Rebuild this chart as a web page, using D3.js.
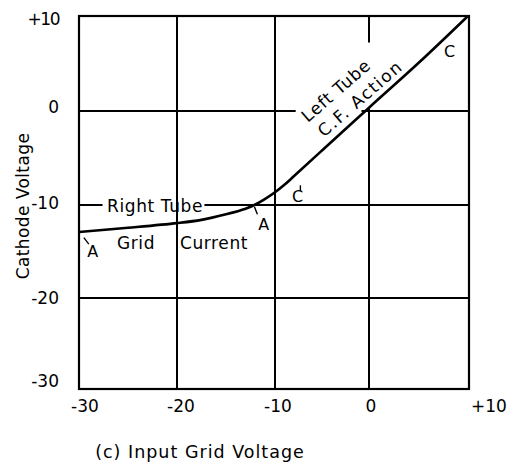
<!DOCTYPE html>
<html>
<head>
<meta charset="utf-8">
<script src="https://cdn.jsdelivr.net/npm/d3@7/dist/d3.min.js"></script>
<style>
  html, body { margin: 0; padding: 0; background: #fff; }
  svg { display: block; }
  text { font-family: "DejaVu Sans", sans-serif; fill: #000; }
</style>
</head>
<body>
<script>
// ---- data ----
const xTicks = [-30, -20, -10, 0, 10];
const xTickLabels = ["-30", "-20", "-10", "0", "+10"];
const yTicks = [10, 0, -10, -20, -30];
const yTickLabels = ["+10", "0", "-10", "-20", "-30"];

// transfer curve: input grid voltage -> cathode voltage
const curveX = [-30, -25, -20, -17.5, -15, -13, -12, -11, -10, -9, -8, -5, 0, 5, 9.9];
const curveY = [-12.9, -12.45, -11.95, -11.6, -11.0, -10.4, -9.95, -9.35, -8.65, -7.85, -6.95, -4.2, 0.35, 5.1, 10];

// grid segments in data units [x1, y1, x2, y2] (gaps leave room for labels)
const gridSegments = [
  [-20, 10, -20, -30],
  [-10, 10, -10, -30],
  [0, 10, 0, 7.2],
  [0, 0.3, 0, -30],
  [-30, 0, -7.8, 0],
  [-0.8, 0, 10, 0],
  [-30, -10, -27.6, -10],
  [-17.2, -10, 10, -10],
  [-30, -20, 10, -20]
];

// ---- layout ----
const W = 514, H = 465;
const svg = d3.select("body").append("svg").attr("width", W).attr("height", H);

const x = d3.scaleLinear().domain(xTicks).range([79, 177, 275, 369, 469]);
const y = d3.scaleLinear().domain(yTicks).range([16, 111, 205, 298, 389]);

// grid
svg.append("g").selectAll("line").data(gridSegments).join("line")
  .attr("x1", d => x(d[0])).attr("y1", d => y(d[1]))
  .attr("x2", d => x(d[2])).attr("y2", d => y(d[3]))
  .attr("stroke", "#000").attr("stroke-width", 2);

// frame
svg.append("rect")
  .attr("x", x(-30)).attr("y", y(10))
  .attr("width", x(10) - x(-30)).attr("height", y(-30) - y(10))
  .attr("fill", "none").attr("stroke", "#000").attr("stroke-width", 2.2);

// curve
const pts = curveX.map((v, i) => [v, curveY[i]]);
svg.append("path")
  .attr("d", d3.line().x(d => x(d[0])).y(d => y(d[1])).curve(d3.curveCatmullRom.alpha(0.5))(pts))
  .attr("fill", "none").attr("stroke", "#000").attr("stroke-width", 2.6);

// x tick labels
const xOff = [6, 4, 3, 2, 20];
svg.append("g").selectAll("text").data(xTicks).join("text")
  .attr("x", (d, i) => x(d) + xOff[i]).attr("y", y(-30) + 23)
  .attr("text-anchor", "middle").attr("font-size", 17)
  .text((d, i) => xTickLabels[i]);

// y tick labels
const yOff = [3, -4, -2, 0, -8];
svg.append("g").selectAll("text").data(yTicks).join("text")
  .attr("x", x(-30) - 20).attr("y", (d, i) => y(d) + yOff[i])
  .attr("dy", "0.35em")
  .attr("text-anchor", "end").attr("font-size", 17)
  .attr("letter-spacing", (d, i) => yTickLabels[i].startsWith("+") ? -1.5 : 0)
  .text((d, i) => yTickLabels[i]);

// axis titles
svg.append("text")
  .attr("x", 200).attr("y", 458)
  .attr("text-anchor", "middle").attr("font-size", 17.5)
  .attr("letter-spacing", 1)
  .text("(c) Input Grid Voltage");

svg.append("text")
  .attr("transform", `translate(29, ${(y(-10) + y(0)) / 2 + 48}) rotate(-90)`)
  .attr("text-anchor", "middle").attr("font-size", 17)
  .attr("letter-spacing", 0.4)
  .text("Cathode Voltage");

// annotations
function label(t, px, py, rot, size, spacing) {
  svg.append("text")
    .attr("transform", `translate(${px}, ${py}) rotate(${rot || 0})`)
    .attr("text-anchor", "middle").attr("font-size", size || 17)
    .attr("letter-spacing", spacing == null ? 0.6 : spacing)
    .text(t);
}
label("Right Tube", 155, y(-10) + 7);
label("Grid", 136, y(-10) + 44);
label("Current", 214, y(-10) + 44);
label("A", 93, y(-10) + 52, 0, 16);
label("A", 264, y(-10) + 25, 0, 16);
label("C", 298, y(-10) - 3, 0, 16);
label("C", 450, y(10) + 41, 0, 16);
label("Left Tube", 340, 95, -41, 17, 0.9);
label("C.F. Action", 364, 103, -41, 17, 1.6);

// small tick marks over A and C
const marks = [[-29.5, -13.5, -29.0, -14.2], [-12.1, -10.2, -11.8, -11.0], [-7.3, -7.9, -7.3, -8.5]];
svg.append("g").selectAll("line").data(marks).join("line")
  .attr("x1", d => x(d[0])).attr("y1", d => y(d[1]))
  .attr("x2", d => x(d[2])).attr("y2", d => y(d[3]))
  .attr("stroke", "#000").attr("stroke-width", 1.4);
</script>
</body>
</html>
